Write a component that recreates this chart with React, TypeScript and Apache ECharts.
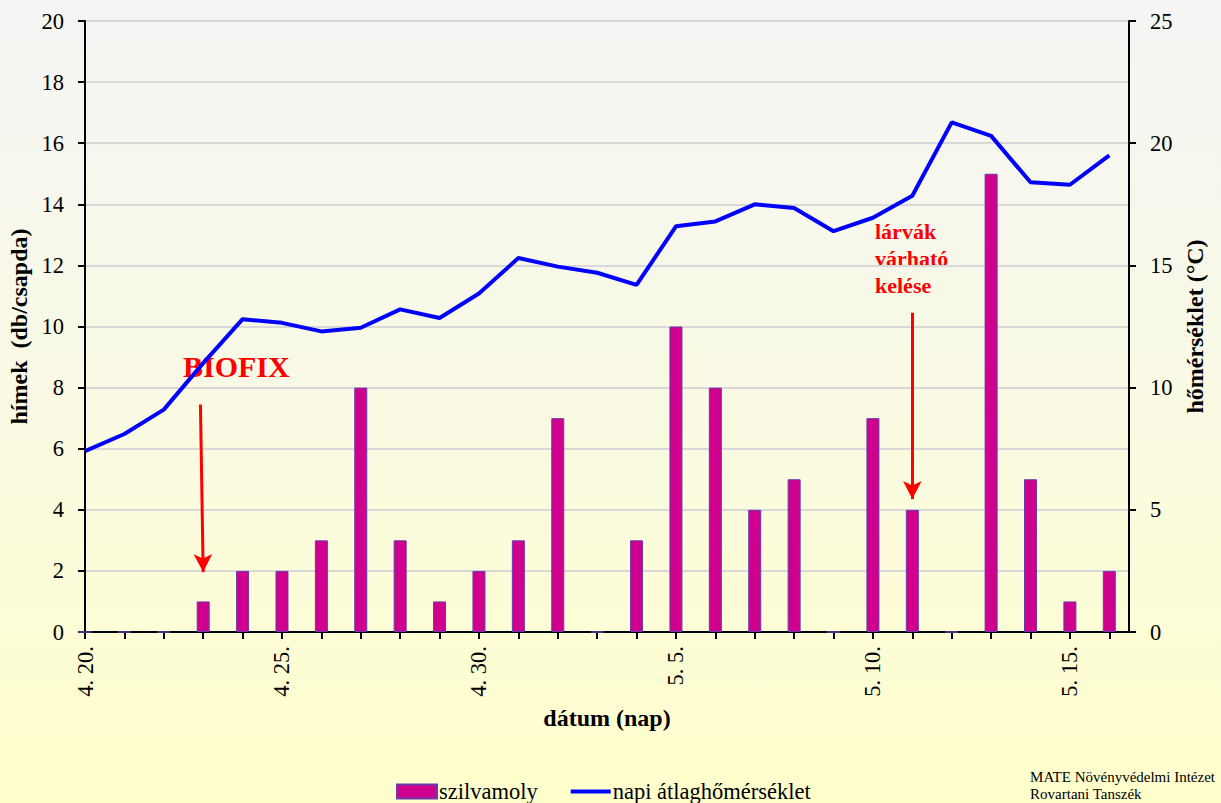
import React, { useEffect, useRef } from "react";
import * as echarts from "echarts";

const dateLabels = [
  "4. 20.", "4. 21.", "4. 22.", "4. 23.", "4. 24.", "4. 25.", "4. 26.", "4. 27.", "4. 28.", "4. 29.", "4. 30.",
  "5. 1.", "5. 2.", "5. 3.", "5. 4.", "5. 5.", "5. 6.", "5. 7.", "5. 8.", "5. 9.", "5. 10.",
  "5. 11.", "5. 12.", "5. 13.", "5. 14.", "5. 15.", "5. 16.",
];
const mothCounts = [0, 0, 0, 1, 2, 2, 3, 8, 3, 1, 2, 3, 7, 0, 3, 10, 8, 4, 5, 0, 7, 4, 0, 15, 5, 1, 2];
const temperatures = [
  7.4, 8.1, 9.1, 11.0, 12.8, 12.65, 12.3, 12.45, 13.2, 12.85, 13.85,
  15.3, 14.95, 14.7, 14.2, 16.6, 16.8, 17.5, 17.35, 16.4, 16.95,
  17.85, 20.85, 20.3, 18.4, 18.3, 19.5,
];
const leftTicks = { min: 0, max: 20, interval: 2 };
const rightTicks = { min: 0, max: 25, interval: 5 };
const labelDays = [0, 5, 10, 15, 20, 25];
const seriesNames = ["szilvamoly", "napi átlaghőmérséklet"];

const FONT = "Liberation Serif";
const TICK_SIZE = 22.5;
const TITLE_SIZE = 24;

export default function App() {
  const ref = useRef<HTMLDivElement>(null);
  useEffect(() => {
    if (!ref.current) return;
    const chart = echarts.init(ref.current, null, { renderer: "svg" });
    const dayIdx = dateLabels.map((_, i) => i);
    const yLabel = { fontSize: TICK_SIZE, color: "#000", margin: 21, fontFamily: FONT };
    const titleStyle = { fontFamily: FONT, fontSize: TITLE_SIZE, fontWeight: "bold", color: "#000" };
    chart.setOption({
      animation: false,
      textStyle: { fontFamily: FONT },
      grid: { left: 85, right: 92, top: 21, bottom: 171, containLabel: false, outerBoundsMode: "none" },
      legend: {
        left: 391,
        top: 775,
        itemWidth: 40,
        itemHeight: 14,
        itemGap: 33,
        textStyle: { fontFamily: FONT, fontSize: 22.5, color: "#000", padding: [0, 0, 0, -3] },
        data: [
          { name: seriesNames[0], icon: "rect" },
          { name: seriesNames[1], icon: "path://M0 0H40V4H0Z" },
        ],
      },
      xAxis: {
        type: "value",
        min: 0,
        max: 26.5,
        interval: 1,
        name: "dátum (nap)",
        nameLocation: "middle",
        nameGap: 74,
        nameTextStyle: titleStyle,
        axisLine: { show: true, onZero: false, lineStyle: { color: "#000", width: 2 } },
        axisTick: { show: true, length: 7, lineStyle: { color: "#000", width: 2 }, customValues: dayIdx },
        axisLabel: {
          rotate: 90,
          margin: 14,
          fontSize: TICK_SIZE,
          color: "#000",
          fontFamily: FONT,
          customValues: labelDays,
          formatter: (v: number) => dateLabels[Math.round(v)] ?? "",
        },
        splitLine: { show: false },
      },
      yAxis: [
        {
          type: "value",
          ...leftTicks,
          position: "left",
          name: "hímek  (db/csapda)",
          nameLocation: "middle",
          nameGap: 51,
          nameTextStyle: titleStyle,
          axisLine: { show: true, lineStyle: { color: "#000", width: 2 } },
          axisTick: { show: true, length: 7, lineStyle: { color: "#000", width: 2 } },
          axisLabel: yLabel,
          splitLine: { show: true, lineStyle: { color: "#d8d8d8", width: 2 } },
        },
        {
          type: "value",
          ...rightTicks,
          position: "right",
          name: "hőmérséklet (°C)",
          nameLocation: "middle",
          nameGap: 48,
          nameRotate: 90,
          nameTextStyle: titleStyle,
          axisLine: { show: true, lineStyle: { color: "#000", width: 2 } },
          axisTick: { show: true, length: 7, lineStyle: { color: "#000", width: 2 } },
          axisLabel: yLabel,
          splitLine: { show: false },
        },
      ],
      series: [
        {
          name: seriesNames[0],
          type: "bar",
          yAxisIndex: 0,
          barWidth: 13,
          itemStyle: { color: "#d0008f", borderColor: "#6a3aa8", borderWidth: 1 },
          data: mothCounts.map((v, i) => [i, v]),
          markLine: {
            silent: true,
            symbol: ["none", "arrow"],
            symbolSize: [14, 18],
            label: { show: false },
            lineStyle: { color: "#ff0000", width: 3, type: "solid" },
            data: [
              [{ coord: [2.93, 7.45] }, { coord: [3.0, 1.96] }],
              [{ coord: [21.0, 10.45] }, { coord: [21.0, 4.35] }],
            ],
          },
        },
        {
          name: seriesNames[1],
          type: "line",
          yAxisIndex: 1,
          showSymbol: false,
          symbol: "none",
          lineStyle: { color: "#0000ff", width: 4 },
          itemStyle: { color: "#0000ff" },
          data: temperatures.map((v, i) => [i, v]),
        },
      ],
      graphic: [
        {
          type: "text",
          left: 183,
          top: 351,
          style: { text: "BIOFIX", fill: "#ff0000", font: `bold 30px ${FONT}` },
        },
        {
          type: "text",
          left: 875,
          top: 218,
          style: {
            text: "lárvák\nvárható\nkelése",
            fill: "#ff0000",
            font: `bold 22px ${FONT}`,
            lineHeight: 27,
          },
        },
        {
          type: "text",
          right: 6,
          top: 768,
          style: {
            text: "MATE Növényvédelmi Intézet\nRovartani Tanszék",
            fill: "#000",
            font: `15px ${FONT}`,
            lineHeight: 17,
            align: "right",
          },
        },
      ],
    });
    return () => chart.dispose();
  }, []);
  return (
    <div
      style={{
        position: "absolute",
        left: 0,
        top: 0,
        width: 1221,
        height: 803,
        overflow: "hidden",
        background: "linear-gradient(to bottom, #f4f5f4 0%, #f9f9e6 45%, #ffffcc 100%)",
      }}
    >
      <div ref={ref} style={{ width: 1221, height: 803 }} />
    </div>
  );
}
